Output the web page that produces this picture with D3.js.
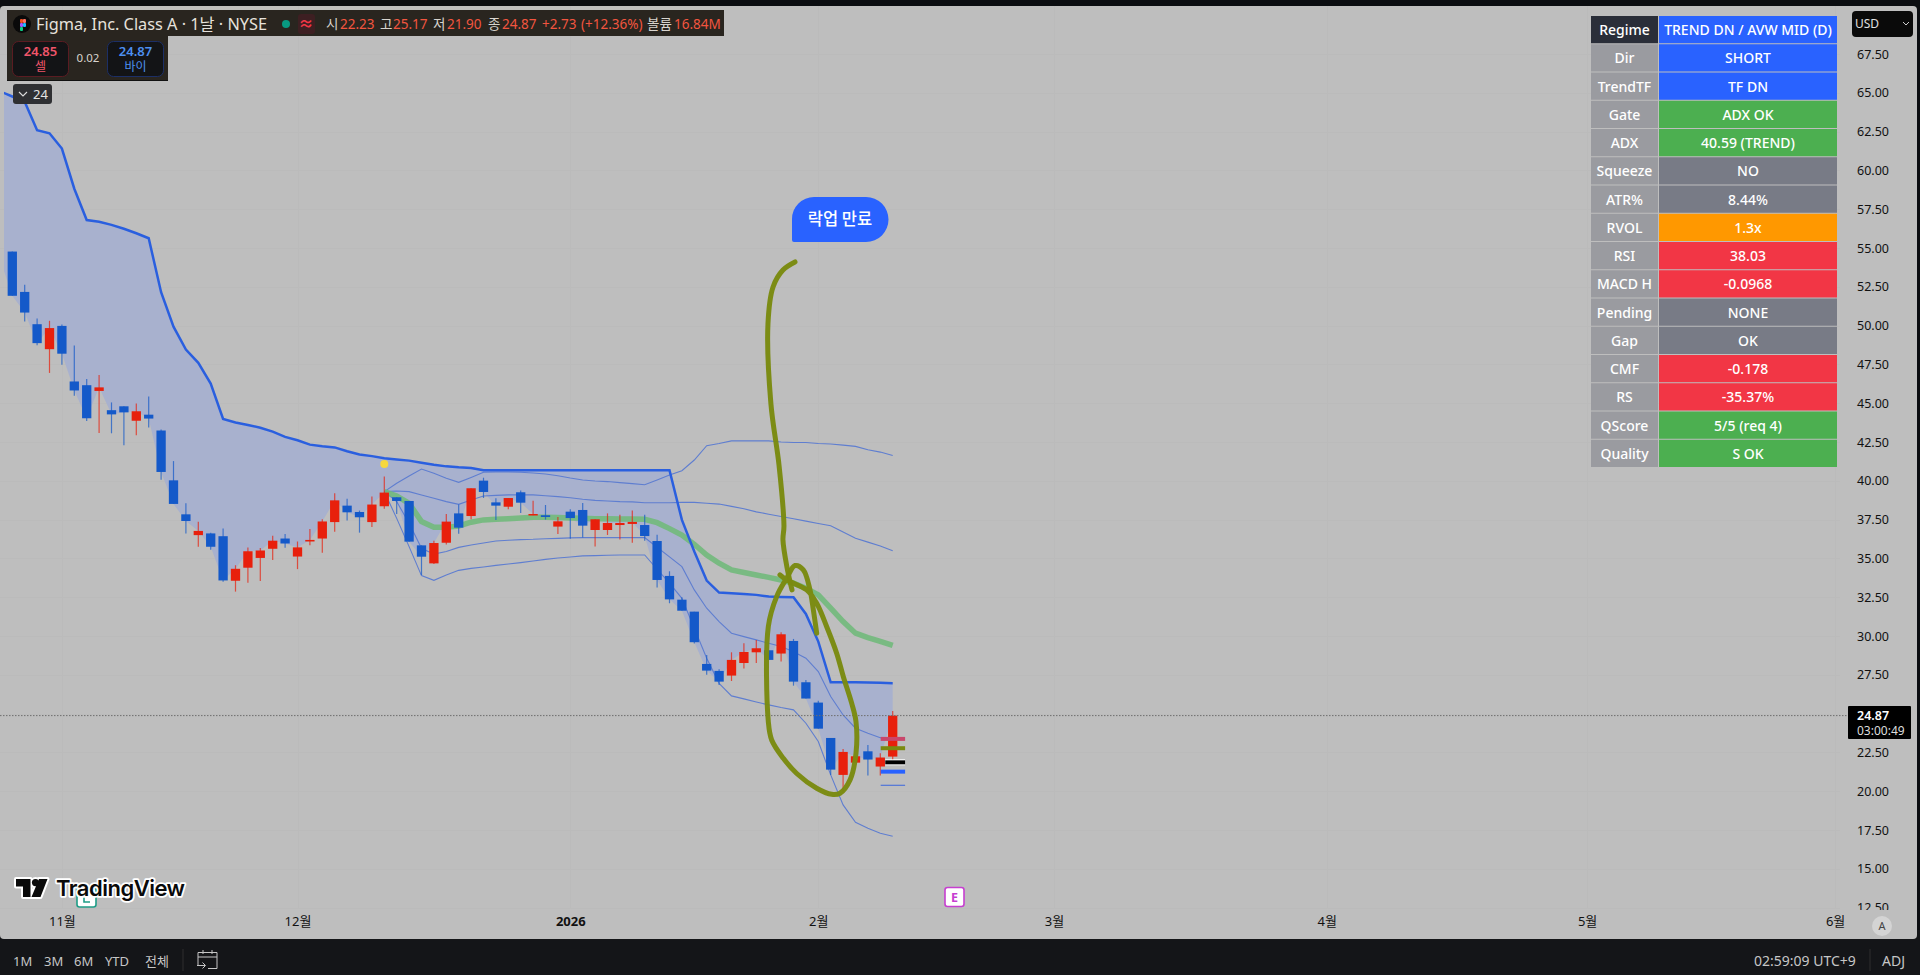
<!DOCTYPE html>
<html><head><meta charset="utf-8">
<style>html,body{margin:0;padding:0;background:#0d0f12;overflow:hidden}svg{display:block}
text{font-family:"Noto Sans","Noto Sans CJK KR",sans-serif}</style>
<script src="https://cdn.jsdelivr.net/npm/d3@7"></script></head><body>
<script>
const opens=[54.77,52.17,50.09,48.48,49.98,46.40,46.16,45.79,44.55,44.80,43.87,44.26,43.24,40.03,37.84,36.50,36.61,36.43,33.56,34.40,35.03,35.62,36.28,35.12,36.09,36.28,37.34,38.40,37.99,37.34,38.36,38.94,38.70,35.84,34.68,36.01,37.90,37.73,40.01,38.61,38.33,39.26,37.78,37.78,37.05,38.01,38.12,36.83,36.83,37.15,37.22,37.15,36.12,33.87,32.34,31.57,28.20,27.75,27.45,28.26,28.95,29.08,28.87,29.68,27.02,25.71,23.43,21.05,21.84,22.57,21.59,22.23];
const closes=[51.92,50.84,48.87,49.84,48.19,45.82,44.03,46.02,44.28,44.41,44.48,44.01,40.57,38.51,37.41,36.77,35.75,33.58,34.33,35.46,35.51,36.14,35.96,35.71,36.19,37.38,38.74,37.97,37.65,38.47,39.24,38.70,36.08,35.11,35.99,37.37,36.98,39.52,39.28,38.40,38.89,38.59,37.86,37.67,37.39,37.60,37.11,37.52,37.28,37.28,37.35,36.44,33.61,32.36,31.63,29.60,27.77,27.06,28.46,28.97,29.21,28.46,30.11,27.06,25.97,24.03,21.39,22.53,22.25,22.04,22.17,24.87];
const highs=[54.77,52.64,50.45,50.31,50.07,48.71,46.56,46.81,45.05,44.80,44.98,45.43,43.31,41.27,38.56,37.36,36.66,36.93,34.56,35.71,35.67,36.46,36.57,36.09,36.89,37.52,39.19,38.85,38.08,38.99,40.28,38.94,38.70,35.84,36.14,37.86,38.48,39.52,40.20,38.87,38.89,39.37,38.72,38.44,37.67,38.16,38.57,37.52,37.90,37.82,38.08,37.82,36.53,34.17,32.49,31.57,28.78,27.86,28.95,29.53,29.75,29.08,30.24,29.81,27.17,25.82,23.43,22.72,22.25,22.98,22.44,25.17];
const lows=[51.92,50.27,48.73,46.95,47.47,45.48,43.85,43.08,43.06,42.29,42.94,43.44,40.07,38.51,36.61,35.75,35.55,33.49,32.86,33.43,33.54,34.89,35.69,34.31,35.85,35.37,36.71,37.45,36.66,37.02,38.20,37.86,36.08,33.93,34.64,35.89,36.59,37.52,38.89,37.48,38.16,37.93,37.78,37.50,36.57,36.27,36.34,35.76,36.51,36.21,36.01,36.14,33.12,32.11,31.63,29.51,27.51,26.85,27.10,27.90,28.26,28.46,28.35,26.80,25.97,24.03,21.05,19.97,21.84,21.01,21.01,21.90];
// index -1 lies just off the pane's left edge
const closeBefore=54.30;
const upperBand=[65.10,64.76,64.42,62.59,62.39,61.41,58.82,56.80,56.69,56.49,56.24,55.95,55.63,52.15,49.93,48.46,47.60,46.27,43.98,43.76,43.60,43.42,43.17,42.83,42.61,42.33,42.22,42.15,41.90,41.70,41.59,41.45,41.38,41.30,41.17,41.04,40.93,40.87,40.83,40.68,40.68,40.68,40.68,40.68,40.68,40.68,40.68,40.68,40.68,40.68,40.68,40.68,40.68,40.68,40.68,37.48,35.44,33.57,32.80,32.75,32.71,32.65,32.54,32.52,32.50,31.42,29.64,27.02,27.02,27.02,27.00,26.98,26.96];
// anchored series begin at candle 30
const avwapStart=30;
const avwapMid=[39.30,39.02,38.55,37.37,37.00,37.00,37.09,37.33,37.48,37.52,37.56,37.60,37.65,37.65,37.63,37.60,37.58,37.56,37.56,37.54,37.54,37.52,37.30,36.92,36.51,35.91,35.22,34.69,34.26,34.09,33.93,33.78,33.61,33.40,33.08,32.65,31.79,30.93,30.18,29.90,29.66,29.40];
const outerUpper=[39.30,39.84,40.31,40.76,40.48,40.16,39.90,40.22,40.55,40.57,40.57,40.55,40.50,40.44,40.33,40.18,40.05,39.99,39.95,39.88,39.82,39.75,40.05,40.37,40.65,41.34,42.26,42.40,42.57,42.57,42.57,42.57,42.50,42.47,42.47,42.40,42.37,42.30,42.22,42.00,41.85,41.63];
const innerUpper=[39.30,39.34,39.30,39.09,38.87,38.66,38.48,38.76,39.02,39.06,39.09,39.09,39.09,39.04,38.98,38.91,38.81,38.74,38.70,38.66,38.64,38.59,38.59,38.59,38.61,38.61,38.55,38.50,38.35,38.20,38.00,37.85,37.70,37.55,37.40,37.25,37.10,36.70,36.30,36.05,35.80,35.50];
const innerLower=[39.30,38.66,37.26,35.65,35.28,35.44,35.71,35.86,35.99,36.12,36.17,36.21,36.23,36.27,36.29,36.32,36.34,36.34,36.34,36.34,36.34,36.34,35.72,35.10,34.47,32.97,31.79,30.93,30.18,29.96,29.75,29.53,29.32,28.99,28.57,27.71,26.10,24.91,24.06,23.73,23.45,23.24];
const outerLower=[39.30,37.58,35.76,33.89,33.59,33.93,34.23,34.36,34.45,34.55,34.64,34.73,34.83,34.94,35.03,35.09,35.16,35.18,35.20,35.22,35.22,35.22,34.30,33.40,32.43,30.50,28.57,26.95,26.14,25.95,25.75,25.56,25.39,25.24,24.38,23.20,21.05,19.12,18.00,17.61,17.29,17.10];
const stubPrices=[23.37,22.77,21.86,21.26,20.38];
const stubColors=["#c9476b","#7a8a10","#000000","#2962ff","#4f74d8"];
const stubWidths=[4,4,4,4,1.2];
const penStrokeA=[[63.12,54.10],[62.15,53.58],[61.35,52.49],[60.94,50.10],[61.18,44.95],[61.83,41.02],[62.23,37.09],[62.15,36.19],[62.47,34.45],[62.88,32.97]];
const penStrokeB=[[61.91,33.94],[62.45,33.61],[64.06,32.97],[64.87,32.11],[65.67,30.61],[66.48,28.89],[67.02,27.38],[67.69,25.67],[68.04,24.48],[68.04,22.44],[67.56,20.73],[66.75,19.87],[66.08,19.80],[64.87,20.19],[63.26,21.14],[62.18,22.12],[61.24,23.30],[60.97,24.48],[60.97,30.61],[61.64,32.54],[62.45,33.72],[63.12,34.54],[63.79,34.26],[64.33,32.97],[64.60,31.68],[64.87,30.18]];
const priceTicks=[67.5,65,62.5,60,57.5,55,52.5,50,47.5,45,42.5,40,37.5,35,32.5,30,27.5,22.5,20,17.5,15,12.5];
const gridTicks=[67.5,65,62.5,60,57.5,55,52.5,50,47.5,45,42.5,40,37.5,35,32.5,30,27.5,25,22.5,20,17.5,15,12.5];
const monthIndex=[4,23,45,65,84,106,127,147];
const monthLabels=["11월","12월","2026","2월","3월","4월","5월","6월"];
const tableLabels=["Regime","Dir","TrendTF","Gate","ADX","Squeeze","ATR%","RVOL","RSI","MACD H","Pending","Gap","CMF","RS","QScore","Quality"];
const tableValues=["TREND DN / AVW MID (D)","SHORT","TF DN","ADX OK","40.59 (TREND)","NO","8.44%","1.3x","38.03","-0.0968","NONE","OK","-0.178","-35.37%","5/5 (req 4)","S OK"];
const tableColors=["#2962ff","#2962ff","#2962ff","#4caf50","#4caf50","#787b86","#787b86","#ff9800","#f23645","#f23645","#787b86","#787b86","#f23645","#f23645","#4caf50","#4caf50"];
const ohlcLabels=[["시",326],["고",380],["저",433],["종",488],["볼륨",647]];
const ohlcValues=[["22.23",340],["25.17",393],["21.90",447],["24.87",502],["+2.73",542],["(+12.36%)",581],["16.84M",674]];
const ranges=[["1M",13],["3M",44],["6M",74],["YTD",105],["전체",145]];
const lastPrice=24.87, markerIndex=30, markerPrice=41.08;

const W=1920,H=975,paneR=1840,paneB=909;
const x=d3.scaleLinear().domain([0,1]).range([12.3,24.7]);
const y=d3.scaleLinear().domain([67.5,12.5]).range([54,907.6]);
const svg=d3.select("body").append("svg").attr("width",W).attr("height",H);
const defs=svg.append("defs");
defs.append("clipPath").attr("id","pane").append("rect").attr("x",4).attr("y",6).attr("width",paneR-4).attr("height",paneB-6);
defs.append("clipPath").attr("id","axisClip").append("rect").attr("x",1840).attr("y",6).attr("width",80).attr("height",paneB-6+1);

svg.append("rect").attr("width",W).attr("height",H).attr("fill","#0b0d11");
svg.append("rect").attr("y",930).attr("width",W).attr("height",45).attr("fill","#141518");
svg.append("rect").attr("x",0).attr("y",6).attr("width",1917).attr("height",933).attr("rx",4).attr("fill","#bebebe");

// grid
const grid=svg.append("g").attr("stroke","#bbbbbb").attr("stroke-width",1);
grid.selectAll("line.h").data(gridTicks).join("line").attr("class","h").attr("x1",0).attr("x2",paneR).attr("y1",d=>Math.round(y(d))+.5).attr("y2",d=>Math.round(y(d))+.5);
grid.selectAll("line.v").data(monthIndex).join("line").attr("class","v").attr("x1",d=>Math.round(x(d))+.5).attr("x2",d=>Math.round(x(d))+.5).attr("y1",6).attr("y2",paneB);

const g=svg.append("g").attr("clip-path","url(#pane)");
// band fill: upper band down to the close
const fillRows=upperBand.map((u,i)=>({i:i-1,u,c:i===0?closeBefore:closes[i-1]}));
g.append("path").datum(fillRows).attr("fill","#a8b1ce")
 .attr("d",d3.area().x(d=>x(d.i)).y0(d=>y(d.c)).y1(d=>y(d.u)));

const anchored=d3.line().x((d,i)=>x(i+avwapStart)).y(d=>y(d));
[outerUpper,innerUpper,innerLower,outerLower].forEach(s=>{
  g.append("path").datum(s).attr("fill","none").attr("stroke","#5f7ed0").attr("stroke-width",1.1).attr("d",anchored);
});
g.append("path").datum(avwapMid).attr("fill","none").attr("stroke","#6fb97a").attr("stroke-width",5.5).attr("stroke-opacity",.88).attr("d",anchored);
g.append("path").datum(upperBand).attr("fill","none").attr("stroke","#2a5fdf").attr("stroke-width",2.5)
 .attr("d",d3.line().x((d,i)=>x(i-1)).y(d=>y(d)));

// candles
const up="#e8200c",dn="#1459c9";
const cand=g.append("g").selectAll("g").data(opens.map((o,i)=>({i,o,c:closes[i],h:highs[i],l:lows[i]}))).join("g");
cand.append("line").attr("x1",d=>x(d.i)).attr("x2",d=>x(d.i)).attr("y1",d=>y(d.h)).attr("y2",d=>y(d.l))
 .attr("stroke",d=>d.c>=d.o?up:dn).attr("stroke-opacity",.72).attr("stroke-width",1.2);
cand.append("rect").attr("x",d=>x(d.i)-4.65).attr("width",9.3).attr("y",d=>y(Math.max(d.o,d.c))).attr("height",d=>Math.max(1.5,Math.abs(y(d.o)-y(d.c))))
 .attr("fill",d=>d.c>=d.o?up:dn);

// last-value stubs
g.append("line").attr("x1",x(70.4)).attr("x2",x(72)).attr("y1",y(stubPrices[2])).attr("y2",y(stubPrices[2])).attr("stroke","#fff").attr("stroke-width",6);
g.selectAll("line.stub").data(stubPrices).join("line").attr("class","stub")
 .attr("x1",(d,i)=>i===2?x(70.4):x(70.03)).attr("x2",x(72)).attr("y1",d=>y(d)).attr("y2",d=>y(d))
 .attr("stroke",(d,i)=>stubColors[i]).attr("stroke-width",(d,i)=>stubWidths[i]);

// last price line, marker
svg.append("line").attr("x1",0).attr("x2",1848).attr("y1",y(lastPrice)).attr("y2",y(lastPrice)).attr("stroke","#6e6e6e").attr("stroke-width",1).attr("stroke-dasharray","1.5 1.5");
g.append("circle").attr("cx",x(markerIndex)).attr("cy",y(markerPrice)).attr("r",4).attr("fill","#f7d83c");

// pen strokes
const pen=d3.line().x(d=>x(d[0])).y(d=>y(d[1])).curve(d3.curveCatmullRom.alpha(.5));
[penStrokeA,penStrokeB].forEach(s=>svg.append("path").datum(s).attr("fill","none").attr("stroke","#7a8a10").attr("stroke-width",5).attr("stroke-linecap","round").attr("stroke-linejoin","round").attr("stroke-opacity",.97).attr("d",pen));

// bubble
const bx=792,by=197,bw=96,bh=45,r=22;
svg.append("path").attr("fill","#2962ff").attr("d",`M${bx+r},${by}H${bx+bw-r}A${r},${r} 0 0 1 ${bx+bw-r},${by+bh}H${bx+2}Q${bx},${by+bh} ${bx},${by+bh-2}V${by+r}A${r},${r} 0 0 1 ${bx+r},${by}Z`);
svg.append("text").attr("x",840).attr("y",225).attr("text-anchor","middle").attr("fill","#fff").attr("font-size",16.5).style("font-family",'"Noto Sans CJK KR"').attr("font-weight",500).text("락업 만료");

// price axis
const ax=svg.append("g").attr("clip-path","url(#axisClip)").append("g").attr("transform","translate(1852,0)")
 .call(d3.axisRight(y).tickValues(priceTicks).tickSize(0).tickPadding(5).tickFormat(d3.format(".2f")));
ax.select(".domain").remove();
ax.selectAll("text").attr("fill","#111").attr("font-size",12.5).style("font-family",'"Noto Sans",sans-serif');

// time axis
const tx=svg.append("g").attr("transform","translate(0,917)")
 .call(d3.axisBottom(x).tickValues(monthIndex).tickSize(0).tickPadding(0).tickFormat((d,i)=>monthLabels[i]));
tx.select(".domain").remove();
tx.selectAll("text").attr("fill","#111").attr("font-size",13).attr("dy","0.71em").attr("font-weight",d=>d===45?700:400).style("font-family",'"Noto Sans","Noto Sans CJK KR",sans-serif');

// last price label
svg.append("rect").attr("x",1848).attr("y",706).attr("width",63).attr("height",33).attr("rx",1).attr("fill","#000");
svg.append("text").attr("x",1857).attr("y",720).attr("fill","#fff").attr("font-size",12.5).attr("font-weight",600).text("24.87");
svg.append("text").attr("x",1857).attr("y",735).attr("fill","#ddd").attr("font-size",12).text("03:00:49");

// currency button
svg.append("rect").attr("x",1852).attr("y",11).attr("width",61).attr("height",26).attr("rx",4).attr("fill","#0a0a0a");
svg.append("text").attr("x",1855).attr("y",28).attr("fill","#e0e0e0").attr("font-size",12).text("USD");
svg.append("path").attr("d","M1903,22l3,3l3,-3").attr("fill","none").attr("stroke","#ccc").attr("stroke-width",1);

// A button
svg.append("circle").attr("cx",1882).attr("cy",926).attr("r",10).attr("fill","#d4d4d4");
svg.append("text").attr("x",1882).attr("y",930).attr("text-anchor","middle").attr("fill","#444").attr("font-size",11).text("A");

// table
const rowY=d3.scaleBand().domain(d3.range(tableLabels.length)).range([16,468]);
const rows=svg.append("g").selectAll("g").data(tableLabels).join("g").attr("transform",(d,i)=>`translate(0,${rowY(i)})`);
rows.append("rect").attr("x",1591).attr("width",67).attr("height",rowY.bandwidth()-1).attr("fill",(d,i)=>i===0?"#2a2e39":"#9a9ba0");
rows.append("rect").attr("x",1659).attr("width",178).attr("height",rowY.bandwidth()-1).attr("fill",(d,i)=>tableColors[i]);
rows.append("text").attr("x",1624.5).attr("y",19).attr("text-anchor","middle").attr("fill","#fff").attr("font-size",14).attr("font-weight",500).text(d=>d);
rows.append("text").attr("x",1748).attr("y",19).attr("text-anchor","middle").attr("fill","#fff").attr("font-size",14).attr("font-weight",500).text((d,i)=>tableValues[i]);

// legend header
svg.append("rect").attr("x",7).attr("y",10).attr("width",717).attr("height",26).attr("fill","#29251f");
svg.append("rect").attr("x",7).attr("y",36).attr("width",161).attr("height",45).attr("fill","#29251f");
svg.append("rect").attr("x",7).attr("y",80).attr("width",161).attr("height",1).attr("fill","#111");
svg.append("circle").attr("cx",22).attr("cy",24).attr("r",9).attr("fill","#0a0a0a");
[["#f24e1e",20,19],["#ff7262",23,19],["#a259ff",20,23],["#1abcfe",23,23],["#0acf83",20,27]].forEach(d=>svg.append("rect").attr("x",d[1]).attr("y",d[2]).attr("width",3).attr("height",4).attr("rx",1).attr("fill",d[0]));
svg.append("text").attr("x",36).attr("y",30).attr("fill","#e6e2dc").attr("font-size",16.3).text("Figma, Inc. Class A · 1날 · NYSE");
svg.append("circle").attr("cx",286).attr("cy",24).attr("r",4).attr("fill","#089981");
svg.append("rect").attr("x",298).attr("y",14).attr("width",17).attr("height",20).attr("rx",3).attr("fill","#3d1f22");
svg.append("text").attr("x",306).attr("y",29).attr("text-anchor","middle").attr("fill","#f23645").attr("font-size",15).attr("font-weight",700).text("≈");
svg.append("g").selectAll("text").data(ohlcLabels).join("text").attr("x",d=>d[1]).attr("y",29).attr("fill","#d8d4ce").attr("font-size",13.5).text(d=>d[0]);
svg.append("g").selectAll("text").data(ohlcValues).join("text").attr("x",d=>d[1]).attr("y",29).attr("fill","#f2553f").attr("font-size",13.5).text(d=>d[0]);

// sell / buy
svg.append("rect").attr("x",12.5).attr("y",41.5).attr("width",56).attr("height",35).attr("rx",6).attr("fill","#131416").attr("stroke","#5a1c22");
svg.append("rect").attr("x",107.5).attr("y",41.5).attr("width",56).attr("height",35).attr("rx",6).attr("fill","#131416").attr("stroke","#1c2f66");
[[40.5,"24.85","셀","#f0566a"],[135.5,"24.87","바이","#4d90f0"]].forEach(d=>{
 svg.append("text").attr("x",d[0]).attr("y",56).attr("text-anchor","middle").attr("fill",d[3]).attr("font-size",13).attr("font-weight",600).text(d[1]);
 svg.append("text").attr("x",d[0]).attr("y",71).attr("text-anchor","middle").attr("fill",d[3]).attr("font-size",12).text(d[2]);
});
svg.append("text").attr("x",88).attr("y",62).attr("text-anchor","middle").attr("fill","#d8d4ce").attr("font-size",11.5).text("0.02");

// collapse chip
svg.append("rect").attr("x",13).attr("y",84).attr("width",39).attr("height",20).attr("rx",3).attr("fill","#2f3033");
svg.append("path").attr("d","M19,92l4,4l4,-4").attr("fill","none").attr("stroke","#ddd").attr("stroke-width",1.1);
svg.append("text").attr("x",33).attr("y",99).attr("fill","#e4e4e4").attr("font-size",13).text("24");

// badges
function badge(cx,cy,col,t){
 svg.append("rect").attr("x",cx-9.5).attr("y",cy-9.5).attr("width",19).attr("height",19).attr("rx",2.5).attr("fill","#fff").attr("stroke",col).attr("stroke-width",1.6);
 svg.append("text").attr("x",cx).attr("y",cy+4.5).attr("text-anchor","middle").attr("fill",col).attr("font-size",12.5).attr("font-weight",700).text(t);
}
badge(954.5,897,"#c63fd0","E");
// L badge sits below the logo, its top hidden by the wordmark
const lBadge=svg.append("g");
lBadge.append("rect").attr("x",77).attr("y",888).attr("width",19).attr("height",19).attr("rx",2.5).attr("fill","#fff").attr("stroke","#1f9d87").attr("stroke-width",1.6);
lBadge.append("path").attr("d","M84,896V902H90").attr("fill","none").attr("stroke","#1f9d87").attr("stroke-width",1.6);

// TradingView mark
const mark=svg.append("g").attr("transform","translate(16,879)");
const logoPath="M0,0H14.5V18H7V7.5H0Z M23,0L31.5,0L24.5,18H15.5Z";
mark.append("path").attr("d",logoPath).attr("fill","#fff").attr("stroke","#fff").attr("stroke-width",4).attr("stroke-linejoin","round");
mark.append("circle").attr("cx",19.5).attr("cy",3.6).attr("r",3.6).attr("fill","#fff").attr("stroke","#fff").attr("stroke-width",4);
mark.append("path").attr("d",logoPath).attr("fill","#0a0a0a");
mark.append("circle").attr("cx",19.5).attr("cy",3.6).attr("r",3.6).attr("fill","#0a0a0a");
svg.append("text").attr("x",56).attr("y",896).attr("font-size",22).attr("font-weight",600).style("font-family","Inter").attr("fill","#0a0a0a").attr("stroke","#fff").attr("stroke-width",3.5).attr("paint-order","stroke").attr("stroke-linejoin","round").attr("letter-spacing","-0.5").text("TradingView");

// bottom bar
svg.append("g").selectAll("text").data(ranges).join("text").attr("x",d=>d[1]).attr("y",966).attr("fill","#c6c6c6").attr("font-size",13).text(d=>d[0]);
svg.append("line").attr("x1",183).attr("x2",183).attr("y1",949).attr("y2",971).attr("stroke","#2e2e2e");
svg.append("path").attr("fill","none").attr("stroke","#c6c6c6").attr("stroke-width",1).attr("d","M198,965V952.5H217V968.5H208 M198,957H217 M203,950V954 M212,950V954 M197,965.5H205 M202.5,962.5L205.5,965.5L202.5,968.5");
svg.append("text").attr("x",1754).attr("y",966).attr("fill","#c6c6c6").attr("font-size",14).text("02:59:09 UTC+9");
svg.append("line").attr("x1",1870).attr("x2",1870).attr("y1",949).attr("y2",971).attr("stroke","#2e2e2e");
svg.append("text").attr("x",1882).attr("y",966).attr("fill","#c6c6c6").attr("font-size",14).text("ADJ");
</script></body></html>
